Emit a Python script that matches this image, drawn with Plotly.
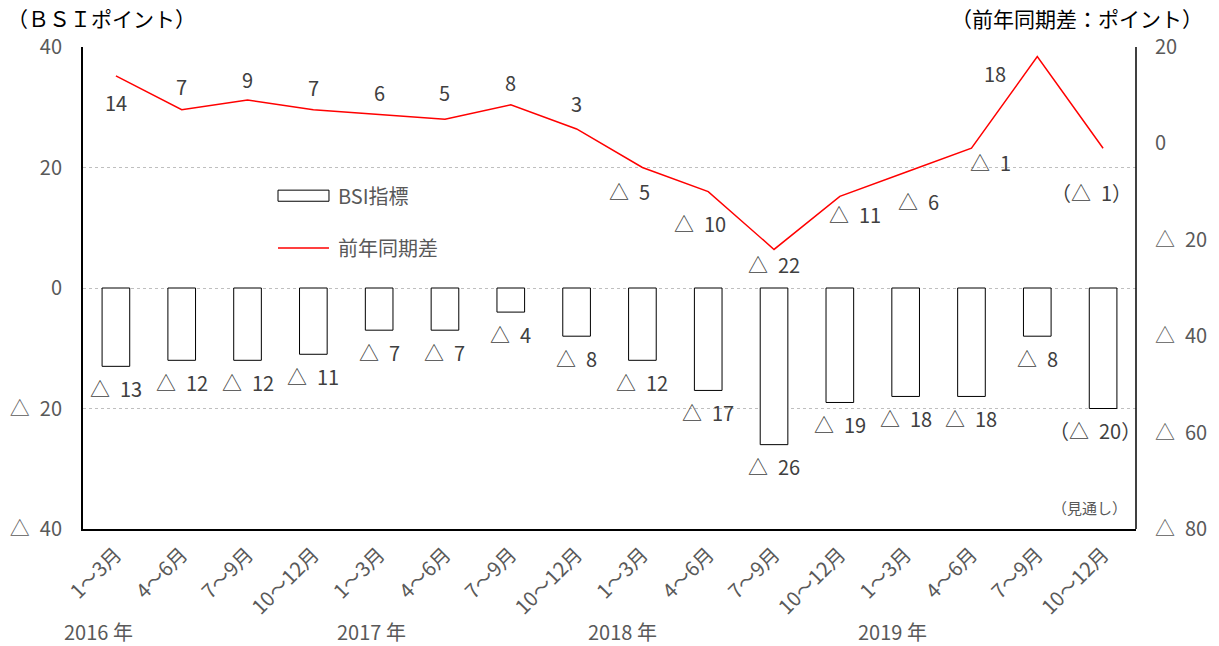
import plotly.graph_objects as go

# Quarterly periods, 2016 Q1 .. 2019 Q4 (last quarter is a forecast)
quarters = ["1～3月", "4～6月", "7～9月", "10～12月"] * 4
years = ["2016 年", "2017 年", "2018 年", "2019 年"]
year_label_x = [-0.27, 3.89, 7.7, 11.8]

bsi = [-13, -12, -12, -11, -7, -7, -4, -8, -12, -17, -26, -19, -18, -18, -8, -20]
yoy = [14, 7, 9, 7, 6, 5, 8, 3, -5, -10, -22, -11, -6, -1, 18, -1]

left_ticks = [40, 20, 0, -20, -40]
right_ticks = [20, 0, -20, -40, -60, -80]

FONT = "Noto Sans CJK JP"
GRAY = "#595959"
DARK = "#404040"

def fmt(v):
    return f"△\u2002{abs(v)}" if v < 0 else f"{v}"

x = list(range(len(bsi)))

fig = go.Figure()
fig.add_trace(go.Bar(
    x=x, y=bsi, width=0.42,
    marker=dict(color="white", line=dict(color="black", width=1)),
    showlegend=False, hoverinfo="skip",
))
fig.add_trace(go.Scatter(
    x=x, y=yoy, yaxis="y2", mode="lines",
    line=dict(color="#ff0000", width=1.5),
    showlegend=False, hoverinfo="skip",
))

annotations = []

def note(**kw):
    kw.setdefault("showarrow", False)
    kw.setdefault("xanchor", "center")
    kw.setdefault("yanchor", "middle")
    annotations.append(kw)

# labels under each bar (the forecast quarter is nudged left, clear of the axis)
for i, v in enumerate(bsi):
    t = fmt(v)
    dx = 0
    if i == len(bsi) - 1:
        t = f"（{t}）"
        dx = -8
    note(x=i, y=v, xref="x", yref="y", text=t, xshift=dx, yshift=-22,
         font=dict(family=FONT, size=20, color=DARK))

# labels for the year-on-year line (pixel offsets per point)
line_offsets = [(0, -27), (0, 23), (0, 21), (0, 22), (0, 22), (0, 27), (0, 22), (0, 25),
                (-13, -24), (-8, -32), (0, -15), (15, -18), (13, -29), (19, -14),
                (-42, -17), (-12, -44)]
for i, v in enumerate(yoy):
    t = fmt(v)
    if i == len(yoy) - 1:
        t = f"（{t}）"
    dx, dy = line_offsets[i]
    note(x=i, y=v, xref="x", yref="y2", text=t, xshift=dx, yshift=dy,
         font=dict(family=FONT, size=20, color=DARK))

# year captions under the quarter ticks
for yx, yl in zip(year_label_x, years):
    note(x=yx, y=-0.212, xref="x", yref="paper", text=yl,
         font=dict(family=FONT, size=20, color=GRAY))

# axis titles
note(x=-0.074, y=1.06, xref="paper", yref="paper", xanchor="left",
     text="（ＢＳＩポイント）", font=dict(family=FONT, size=21, color="black"))
note(x=1.0655, y=1.06, xref="paper", yref="paper", xanchor="right",
     text="（前年同期差：ポイント）", font=dict(family=FONT, size=21, color="black"))
note(x=0.956, y=0.0436, xref="paper", yref="paper",
     text="（見通し）", font=dict(family=FONT, size=15, color=GRAY))

# legend
note(x=0.240, y=0.691, xref="paper", yref="paper", xanchor="left",
     text="BSI指標", font=dict(family=FONT, size=20, color=GRAY))
note(x=0.240, y=0.585, xref="paper", yref="paper", xanchor="left",
     text="前年同期差", font=dict(family=FONT, size=20, color=GRAY))
shapes = [
    dict(type="rect", xref="paper", yref="paper", x0=0.1852, x1=0.2336, y0=0.680, y1=0.703,
         line=dict(color="black", width=1), fillcolor="white"),
    dict(type="line", xref="paper", yref="paper", x0=0.1852, x1=0.2336, y0=0.583, y1=0.583,
         line=dict(color="#ff0000", width=1.5)),
    dict(type="line", xref="paper", yref="paper", x0=1, x1=1, y0=0, y1=1,
         line=dict(color="black", width=1.5)),
]

fig.update_layout(
    width=1219, height=646,
    margin=dict(l=83, r=83, t=47, b=117, autoexpand=False),
    paper_bgcolor="white", plot_bgcolor="white",
    xaxis=dict(
        range=[-0.5, 15.5], tickmode="array", tickvals=x, ticktext=quarters,
        tickangle=-45, showgrid=False, showline=True, linecolor="black", linewidth=2,
        ticks="", tickfont=dict(family=FONT, size=20, color=GRAY), zeroline=False,
        ticklabelstandoff=4, automargin=False,
    ),
    yaxis=dict(
        range=[-40, 40], tickmode="array", tickvals=left_ticks,
        ticktext=[fmt(v) for v in left_ticks],
        showgrid=True, gridcolor="#bfbfbf", griddash="dot", gridwidth=1,
        zeroline=False, showline=True, linecolor="black", linewidth=2, ticks="",
        tickfont=dict(family=FONT, size=20, color=GRAY), ticklabelstandoff=15,
        automargin=False,
    ),
    yaxis2=dict(
        range=[-80, 20], overlaying="y", side="right", tickmode="array",
        tickvals=right_ticks, ticktext=[fmt(v) for v in right_ticks],
        showgrid=False, zeroline=False, showline=False, ticks="",
        tickfont=dict(family=FONT, size=20, color=GRAY), ticklabelstandoff=18,
        automargin=False,
    ),
    annotations=annotations,
    shapes=shapes,
)

fig.write_html("out.html")
